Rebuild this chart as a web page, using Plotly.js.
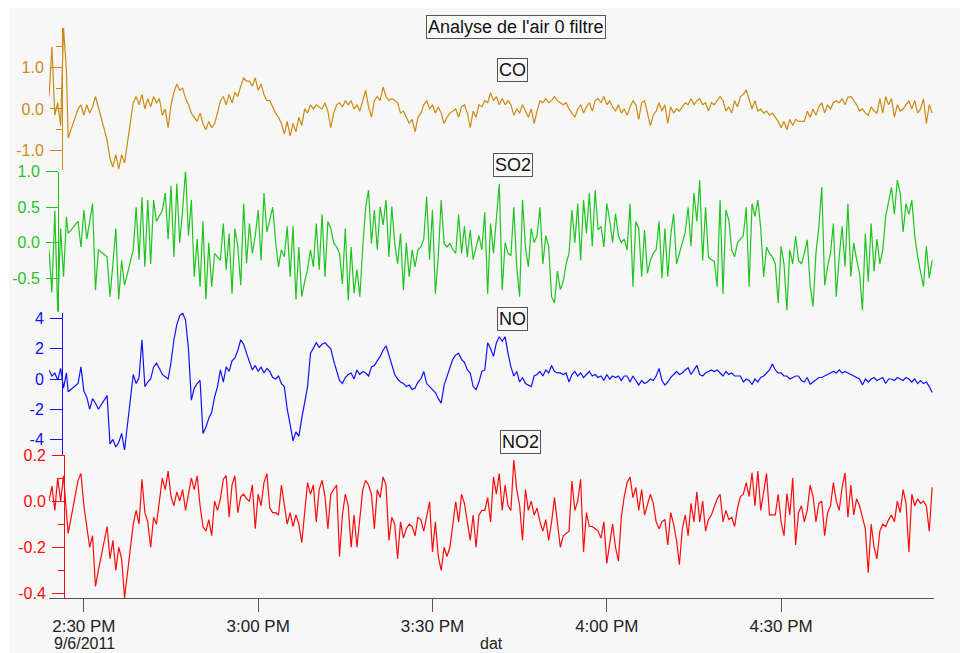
<!DOCTYPE html>
<html>
<head>
<meta charset="utf-8">
<script src="https://cdn.plot.ly/plotly-3.0.1.min.js"></script>
<style>html,body{margin:0;padding:0;background:#fff;}#chart{width:960px;height:653px;}</style>
</head>
<body>
<div id="chart"></div>
<script>
// Sample times: minutes after 2:24 PM on 9/6/2011 (gaps where no data was logged)
const minutes = [
 0,0.5,1,1.5,2,2.5,3,3.3,
 5,5.5,6,6.5,7,7.5,8,8.5,
 10,10.5,11,11.5,12,12.5,13,
 14.5,15,15.5,16,16.5,17,17.5,18,18.5,19,19.5,
 20,20.5,21,21.5,22,22.5,23,23.5,24,24.5,25,25.5,26,26.5,27,27.5,28,28.5,29,29.5,
 30,30.5,31,31.5,32,32.5,33,33.5,34,34.5,35,35.5,36,36.5,37,37.5,38,38.5,39,39.5,
 40,40.5,41,41.5,42,42.5,43,43.5,44,44.5,45,45.5,46,46.5,47,47.5,48,48.5,49,49.5,
 50,50.5,51,51.5,52,52.5,53,53.5,54,54.5,55,55.5,56,56.5,57,57.5,58,58.5,59,59.5,
 60,60.5,61,61.5,62,62.5,63,63.5,64,64.5,65,65.5,66,66.5,67,67.5,68,68.5,69,69.5,
 70,70.5,71,71.5,72,72.5,73,73.5,74,74.5,75,75.5,76,76.5,77,77.5,78,78.5,79,79.5,
 80,80.5,81,81.5,82,82.5,83,83.5,84,84.5,85,85.5,86,86.5,87,87.5,88,88.5,89,89.5,
 90,90.5,91,91.5,92,92.5,93,93.5,94,94.5,95,95.5,96,96.5,97,97.5,98,98.5,99,99.5,
 100,100.5,101,101.5,102,102.5,103,103.5,104,104.5,105,105.5,106,106.5,107,107.5,108,108.5,109,109.5,
 110,110.5,111,111.5,112,112.5,113,113.5,114,114.5,115,115.5,116,116.5,117,117.5,118,118.5,119,119.5,
 120,120.5,121,121.5,122,122.5,123,123.5,124,124.5,125,125.5,126,126.5,127,127.5,128,128.5,129,129.5,
 130,130.5,131,131.5,132,132.5,133,133.5,134,134.5,135,135.5,136,136.5,137,137.5,138,138.5,139,139.5,
 140,140.5,141,141.5,142,142.5,143,143.5,144,144.5,145,145.5,146,146.5,147,147.5,148,148.5,149,149.5,
 150,150.5,151,151.5,152];

const coValues = [
 0.3,1.5,-0.15,0.15,-0.4,1.95,0.94,-0.7,
 0.0,0.1,-0.15,0.1,-0.1,0.05,0.3,0.05,
 -0.75,-1.2,-1.4,-1.1,-1.45,-1.1,-1.3,
 0.15,0.3,0.1,0.35,0.0,0.25,0.05,0.3,0.15,0.25,-0.15,
 0.0,-0.45,0.1,0.4,0.6,0.45,0.5,0.25,0.1,-0.1,-0.2,-0.3,-0.1,-0.35,-0.5,-0.3,-0.45,-0.35,-0.1,0.2,
 0.3,0.1,0.35,0.15,0.4,0.3,0.55,0.75,0.67,0.67,0.55,0.75,0.45,0.6,0.35,0.2,0.2,0.05,-0.1,-0.2,
 -0.35,-0.6,-0.3,-0.65,-0.35,-0.55,-0.2,-0.4,0.0,-0.1,0.1,0.0,0.1,0.05,0.0,0.15,-0.05,-0.45,-0.1,0.1,
 0.15,0.05,0.2,0.1,0.2,0.0,0.1,-0.05,0.2,0.45,0.05,-0.2,0.2,0.3,0.2,0.53,0.3,0.2,0.25,0.2,
 0.15,-0.1,-0.05,-0.2,-0.35,-0.25,-0.55,-0.2,-0.1,0.1,0.2,0.0,0.1,-0.1,0.05,-0.1,-0.35,-0.2,-0.1,-0.05,
 0.0,-0.2,0.05,0.1,-0.1,-0.45,-0.05,-0.2,0.1,0.05,0.2,0.15,0.39,0.2,0.3,0.1,0.25,0.1,0.2,0.1,
 -0.15,0.0,-0.1,0.1,-0.05,-0.2,0.0,-0.35,-0.05,0.2,0.15,0.25,0.15,0.2,0.3,0.2,0.15,0.1,0.15,0.0,
 -0.1,-0.2,0.0,0.1,-0.1,0.05,0.15,-0.05,0.2,0.25,0.15,0.3,0.1,0.2,0.05,-0.05,0.1,-0.1,0.0,-0.15,
 0.05,0.2,0.1,-0.25,0.15,0.2,-0.1,-0.4,-0.15,-0.05,0.15,-0.05,0.1,-0.35,0.05,-0.1,0.0,-0.05,0.05,0.15,
 0.1,0.25,0.1,0.2,0.25,0.1,0.15,-0.05,0.15,0.1,0.2,0.3,0.2,-0.05,0.05,-0.1,0.2,0.05,0.3,0.35,
 0.46,0.25,0.0,0.2,-0.05,0.0,-0.1,-0.05,-0.15,-0.1,-0.2,-0.3,-0.45,-0.3,-0.5,-0.25,-0.4,-0.25,-0.3,-0.3,
 -0.3,-0.05,-0.2,0.0,-0.15,0.05,0.15,-0.1,0.1,0.0,0.15,0.2,0.15,0.25,0.1,0.28,0.3,0.2,0.1,-0.05,
 0.0,-0.1,-0.15,0.05,-0.05,-0.1,0.25,-0.1,0.3,0.1,0.25,-0.2,0.1,-0.05,0.0,0.1,0.2,0.0,0.2,-0.1,
 0.0,0.25,-0.35,0.1,-0.1];

const so2Values = [
 -0.1,-0.7,0.45,-0.97,0.2,-0.48,0.36,0.13,
 0.3,-0.06,0.46,0.05,0.3,0.55,-0.67,-0.1,
 -0.2,-0.76,-0.3,0.2,-0.8,-0.25,-0.6,
 -0.1,0.5,-0.24,0.64,-0.34,0.6,-0.3,0.6,0.3,0.38,0.45,
 0.7,0.05,0.8,-0.2,0.83,0.0,0.46,1.02,0.1,0.6,-0.48,0.05,-0.62,0.3,-0.8,0.0,-0.62,-0.15,-0.2,-0.25,
 0.27,-0.38,0.13,-0.72,0.2,-0.06,-0.6,0.55,-0.29,0.27,-0.15,0.1,0.46,-0.25,0.7,0.15,0.32,0.5,0.02,-0.34,
 -0.1,-0.2,0.23,-0.48,0.23,-0.8,-0.06,-0.76,-0.55,-0.38,-0.1,-0.34,0.27,-0.38,0.4,-0.48,0.3,0.2,0.0,-0.06,
 -0.15,-0.58,0.2,-0.81,-0.06,-0.71,-0.38,-0.76,-0.06,0.5,0.74,-0.01,0.46,-0.1,0.51,0.25,0.6,-0.2,0.51,-0.01,
 -0.3,0.13,-0.67,0.0,-0.48,-0.1,-0.34,-0.1,-0.06,0.05,0.65,-0.24,0.46,-0.72,-0.2,0.6,-0.01,-0.06,-0.01,-0.1,
 -0.15,0.4,-0.15,0.23,-0.2,0.18,-0.24,-0.06,0.1,-0.1,0.43,-0.72,0.27,-0.15,0.41,0.83,-0.67,0.0,-0.15,-0.18,
 0.5,-0.34,-0.76,0.6,-0.06,-0.34,0.2,0.0,0.1,0.5,-0.3,0.1,-0.06,-0.76,-0.85,-0.4,-0.66,-0.55,-0.3,-0.15,
 0.46,0.0,0.55,-0.25,0.6,0.13,0.7,-0.05,0.74,0.18,0.23,-0.06,0.55,0.32,0.0,0.41,0.1,0.0,0.05,-0.1,
 0.55,-0.62,0.3,0.2,-0.48,0.18,-0.43,-0.25,-0.15,-0.1,0.3,-0.5,0.2,-0.48,0.1,0.41,-0.3,-0.15,-0.02,0.15,
 0.5,-0.05,0.7,0.3,0.88,-0.25,0.5,-0.2,-0.24,-0.26,-0.62,0.6,-0.72,0.46,0.32,-0.1,-0.2,0.0,0.05,0.1,
 0.5,-0.62,0.55,0.37,0.6,0.2,-0.48,-0.06,-0.15,-0.2,-0.3,-0.85,-0.05,-0.3,-0.95,-0.1,-0.3,0.09,-0.25,-0.3,
 -0.15,0.04,-0.6,-0.9,-0.15,0.23,0.78,-0.6,-0.34,-0.15,0.27,-0.76,-0.2,0.23,-0.34,0.55,-0.48,0.0,-0.24,-0.43,
 -0.95,0.13,-0.55,0.27,-0.4,0.05,-0.3,-0.1,0.37,0.6,0.78,0.4,0.88,0.7,0.15,0.55,0.4,0.6,0.1,-0.2,
 -0.42,-0.62,-0.05,-0.5,-0.25];

const noValues = [
 0.6,0.2,0.4,-0.07,0.7,-0.6,0.4,-0.84,
 -0.3,0.8,-0.8,-1.2,-2.0,-1.3,-1.6,-2.0,
 -1.1,-4.3,-4.0,-4.5,-4.2,-3.6,-4.7,
 0.3,-0.3,0.1,2.6,-0.5,-0.2,0.0,0.8,1.05,0.7,0.3,
 0.15,0.0,1.1,2.6,3.6,4.2,4.35,3.9,2.0,-1.4,-0.6,-0.3,-0.1,-3.6,-3.2,-2.6,-2.2,-1.2,-0.5,0.6,
 -0.2,0.8,0.5,1.2,1.4,1.9,2.6,2.3,1.7,1.1,0.6,0.9,0.5,0.8,0.4,0.7,0.5,0.1,0.0,0.2,
 -0.3,-0.5,-2.0,-3.0,-4.1,-3.5,-3.8,-2.6,-1.5,-0.5,1.7,2.1,2.4,2.1,2.3,2.4,2.2,2.0,1.2,0.6,
 -0.1,-0.3,0.1,0.3,0.4,0.0,0.6,0.3,0.5,0.4,0.2,0.8,0.9,1.2,1.5,1.9,2.2,1.6,0.9,0.3,
 0.0,-0.2,-0.3,-0.5,-0.4,-0.7,-0.6,-0.2,0.0,0.5,-0.3,-0.5,-0.75,-0.9,-1.3,-1.6,-0.4,0.2,0.8,1.3,
 1.6,1.7,1.3,1.1,0.6,0.4,-0.5,-0.7,-0.2,0.5,0.6,2.4,2.0,1.5,2.4,2.8,2.5,2.8,1.7,0.8,
 0.2,0.5,-0.2,0.1,-0.3,-0.4,-0.5,0.2,0.3,0.5,0.2,0.6,0.4,0.9,0.5,0.4,0.4,0.3,0.4,-0.2,
 0.3,0.5,0.2,0.4,0.1,0.3,0.5,0.2,0.3,0.1,0.2,-0.1,0.3,0.0,0.2,0.1,0.2,-0.1,0.2,0.2,
 -0.2,0.2,-0.1,-0.4,-0.1,-0.3,-0.2,0.0,-0.1,0.2,0.7,-0.1,-0.4,-0.2,0.1,0.3,0.5,0.3,0.4,0.6,
 0.75,0.3,0.6,0.9,0.3,0.2,0.4,0.5,0.6,0.5,0.6,0.4,0.2,0.5,0.3,0.4,0.2,0.2,0.2,-0.2,
 0.0,-0.1,-0.35,0.0,-0.2,0.1,0.2,0.4,0.6,1.0,0.6,0.4,0.4,0.2,0.2,0.0,0.1,0.2,0.2,-0.1,
 -0.2,0.1,-0.35,-0.2,0.0,0.1,0.1,0.2,0.3,0.4,0.5,0.4,0.6,0.4,0.5,0.4,0.3,0.2,0.1,0.0,
 -0.4,0.0,-0.2,0.0,0.1,-0.1,0.0,0.1,-0.3,0.0,0.0,-0.1,0.1,0.0,-0.1,0.1,0.0,-0.2,0.0,-0.3,
 -0.1,-0.3,-0.2,-0.5,-0.9];

const no2Values = [
 0.0,0.065,-0.04,0.1,0.0,0.11,-0.05,-0.14,
 0.09,0.12,-0.02,-0.11,-0.2,-0.15,-0.37,-0.3,
 -0.11,-0.25,-0.17,-0.3,-0.2,-0.25,-0.42,
 -0.1,-0.04,-0.1,0.095,-0.05,-0.09,-0.2,-0.07,-0.1,0.0,0.1,
 0.05,0.13,0.02,-0.02,0.04,0.0,0.05,-0.04,0.03,0.1,0.05,0.11,-0.02,-0.11,-0.13,-0.08,-0.15,0.0,-0.04,0.01,
 0.095,0.11,-0.07,0.07,0.11,-0.05,0.02,0.03,0.01,0.0,0.07,-0.12,0.03,-0.02,0.08,0.12,-0.03,-0.05,-0.05,-0.06,
 0.07,-0.02,-0.1,-0.05,-0.11,-0.06,-0.1,-0.18,-0.05,0.08,0.03,0.07,-0.09,0.05,0.09,0.02,-0.12,0.03,0.05,0.07,
 -0.24,-0.06,0.03,-0.02,-0.2,-0.06,-0.2,-0.08,0.05,0.09,0.07,0.03,-0.12,0.05,0.015,0.105,0.07,-0.17,-0.07,-0.1,
 -0.25,-0.09,-0.16,-0.12,-0.1,-0.11,-0.15,-0.07,-0.08,-0.13,-0.06,-0.003,-0.22,-0.09,-0.24,-0.3,-0.2,-0.24,-0.2,-0.1,
 -0.003,-0.09,0.03,-0.01,-0.09,-0.17,-0.06,-0.2,-0.06,-0.04,-0.04,0.015,-0.09,0.105,0.03,0.12,-0.04,0.07,-0.02,-0.04,
 0.178,0.05,-0.02,-0.17,0.05,-0.04,0.0,-0.06,-0.03,-0.09,-0.13,-0.08,-0.17,-0.09,0.015,-0.09,-0.2,-0.15,-0.14,-0.13,
 0.087,-0.04,0.0,0.095,-0.22,-0.05,-0.11,-0.11,-0.12,-0.13,-0.16,-0.09,-0.27,-0.18,-0.1,-0.2,-0.26,-0.07,0.02,0.08,
 0.105,0.015,0.06,-0.04,0.05,-0.06,-0.02,0.03,-0.01,-0.09,-0.12,-0.09,-0.08,-0.19,-0.05,-0.1,-0.17,-0.275,-0.12,-0.06,
 -0.15,-0.01,-0.09,0.04,-0.09,0.0,-0.13,-0.08,-0.06,-0.02,0.01,0.03,-0.09,-0.04,-0.08,-0.07,-0.11,-0.03,0.02,0.03,
 0.08,0.02,0.123,-0.02,0.13,-0.04,0.05,0.12,-0.06,-0.06,-0.06,0.03,-0.09,-0.15,0.033,-0.06,0.1,-0.19,-0.05,-0.02,
 -0.09,-0.04,0.07,0.02,-0.09,-0.01,0.0,-0.15,-0.05,-0.02,0.08,0.0,-0.04,0.06,0.123,-0.07,0.07,-0.06,0.01,-0.02,
 -0.07,-0.12,-0.31,-0.1,-0.2,-0.25,-0.13,-0.1,-0.11,-0.08,-0.06,-0.09,0.0,-0.05,0.05,-0.01,-0.22,0.03,-0.02,0.01,
 -0.01,0.0,-0.02,-0.13,0.06];

const seriesNames = ['CO', 'SO2', 'NO', 'NO2'];
const chartTitle = "Analyse de l'air 0 filtre";
const xAxisTitle = 'dat';
const dateLabel = '9/6/2011';
const timeTickVals = ['2011-09-06 14:30:00','2011-09-06 15:00:00','2011-09-06 15:30:00','2011-09-06 16:00:00','2011-09-06 16:30:00'];
const timeTickText = ['2:30 PM','3:00 PM','3:30 PM','4:00 PM','4:30 PM'];
const coTickVals = [-1, 0, 1];
const coTickText = ['-1.0', '0.0', '1.0'];
const so2TickVals = [-0.5, 0, 0.5, 1];
const so2TickText = ['-0.5', '0.0', '0.5', '1.0'];
const noTickVals = [-4, -2, 0, 2, 4];
const noTickText = ['-4', '-2', '0', '2', '4'];
const no2TickVals = [-0.4, -0.2, 0, 0.2];
const no2TickText = ['-0.4', '-0.2', '0.0', '0.2'];

const lens = [minutes.length, coValues.length, so2Values.length, noValues.length, no2Values.length];
if (new Set(lens).size !== 1) { throw new Error('length mismatch: ' + lens.join(',')); }

function pad(n){ return (n < 10 ? '0' : '') + n; }
function stamp(m){
  const s = Math.round(m * 60) + 14 * 3600 + 24 * 60;
  return '2011-09-06 ' + pad(Math.floor(s / 3600)) + ':' + pad(Math.floor((s % 3600) / 60)) + ':' + pad(s % 60);
}
const times = minutes.map(stamp);

const W = 960, H = 653;
const px = v => v / W;
const py = v => 1 - v / H;
const FONT = 'Liberation Sans, Arial, Helvetica, sans-serif';
const colors = {CO: '#cc8a14', SO2: '#1fc41f', NO: '#1010ff', NO2: '#ff0a0a'};

const traces = [
  {x: times, y: coValues, yaxis: 'y', color: colors.CO},
  {x: times, y: so2Values, yaxis: 'y2', color: colors.SO2},
  {x: times, y: noValues, yaxis: 'y3', color: colors.NO},
  {x: times, y: no2Values, yaxis: 'y4', color: colors.NO2}
].map((t, i) => ({type: 'scatter', mode: 'lines', x: t.x, y: t.y, xaxis: 'x', yaxis: t.yaxis,
  name: seriesNames[i], line: {color: t.color, width: 1.2}, hoverinfo: 'skip'}));

function yAx(dom, range, pos, color, tv, tt, minorVals){
  const a = {domain: dom, range: range, anchor: 'free', position: pos, showline: true, linecolor: color, linewidth: 1,
    ticks: 'outside', ticklen: 12, tickcolor: color, tickwidth: 1, tickmode: 'array', tickvals: tv, ticktext: tt,
    ticklabelstandoff: 3,
    tickfont: {family: FONT, size: 16, color: color}, showgrid: false, zeroline: false, fixedrange: true};
  if (minorVals) a.minor = {tickmode: 'array', tickvals: minorVals, ticks: 'outside', ticklen: 6, tickcolor: color, showgrid: false};
  return a;
}

const layout = {
  width: W, height: H, margin: {l: 0, r: 0, t: 0, b: 0},
  paper_bgcolor: '#ffffff', plot_bgcolor: 'rgba(0,0,0,0)', showlegend: false,
  font: {family: FONT, color: '#111'},
  xaxis: {type: 'date', domain: [px(49), px(934)], range: ['2011-09-06 14:24:00', '2011-09-06 16:56:19'],
    anchor: 'y4', showline: true, linecolor: '#555', linewidth: 1, ticks: 'outside', ticklen: 13, tickcolor: '#555',
    tickmode: 'array', tickvals: timeTickVals, ticktext: timeTickText,
    tickfont: {family: FONT, size: 17, color: '#222'}, showgrid: false, zeroline: false, fixedrange: true},
  yaxis: yAx([py(170), py(28)], [-1.47, 1.95], px(62), colors.CO, coTickVals, coTickText, [-0.5, 0.5, 1.5]),
  yaxis2: yAx([py(311.7), py(171.7)], [-0.972, 1.0], px(58), colors.SO2, so2TickVals, so2TickText, null),
  yaxis3: yAx([py(455), py(312.7)], [-5.03, 4.39], px(62), colors.NO, noTickVals, noTickText, null),
  yaxis4: yAx([py(598), py(455)], [-0.42, 0.2], px(64), colors.NO2, no2TickVals, no2TickText, [-0.3, -0.1, 0.1]),
  shapes: [{type: 'rect', xref: 'paper', yref: 'paper', x0: px(9), x1: 1, y0: 0, y1: py(8),
    fillcolor: '#f7f7f7', line: {width: 0}, layer: 'below'}],
  annotations: [
    {text: chartTitle, x: px(516), y: py(27)},
    {text: seriesNames[0], x: px(512.5), y: py(69.5)},
    {text: seriesNames[1], x: px(513.4), y: py(164.5)},
    {text: seriesNames[2], x: px(512.9), y: py(319)},
    {text: seriesNames[3], x: px(520.5), y: py(441.5)}
  ].map(a => Object.assign({xref: 'paper', yref: 'paper', showarrow: false, xanchor: 'center', yanchor: 'middle',
      font: {family: FONT, size: 18, color: '#111'}, bordercolor: '#555', borderwidth: 1, borderpad: 1, bgcolor: '#fafafa'}, a))
    .concat([
      {text: xAxisTitle, xref: 'paper', yref: 'paper', x: px(491), y: py(643), showarrow: false,
        xanchor: 'center', yanchor: 'middle', font: {family: FONT, size: 16, color: '#222'}},
      {text: dateLabel, xref: 'paper', yref: 'paper', x: px(84), y: py(643), showarrow: false,
        xanchor: 'center', yanchor: 'middle', font: {family: FONT, size: 16, color: '#222'}}
    ])
};

Plotly.newPlot('chart', traces, layout, {staticPlot: true, displayModeBar: false});
</script>
</body>
</html>
